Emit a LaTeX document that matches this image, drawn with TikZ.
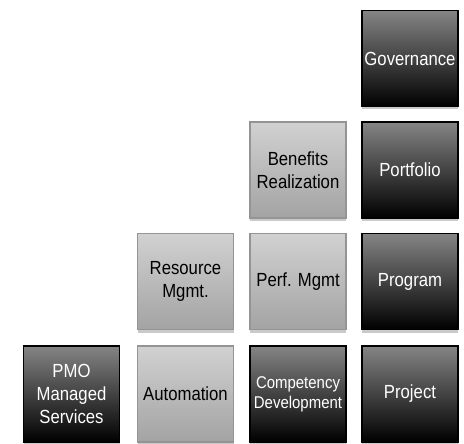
\documentclass[tikz,border=0pt]{standalone}
\usepackage{fontspec}
\setmainfont{Liberation Sans}[FakeStretch=0.88]
\usetikzlibrary{shadows}
\tikzset{
  box/.style={minimum width=96pt, minimum height=96pt, inner sep=0pt, align=center,
    line width=1.3pt, font=\fontsize{19}{23}\selectfont,
    drop shadow={shadow xshift=0pt, shadow yshift=-3pt, opacity=0.35, fill=black!60}},
  darkbox/.style={box, draw=black, top color=black!48, bottom color=black, text=white},
  lightbox/.style={box, draw=black!42, top color=black!18, bottom color=black!36, text=black},
}
\begin{document}
\begin{tikzpicture}[x=1pt,y=-1pt]
\useasboundingbox (0,0) rectangle (464,444);
\node[darkbox] (gov) at (410,58.5) {Governance};
\node[lightbox] (ben) at (298,170) {Benefits\\Realization};
\node[darkbox] (port) at (410,170) {Portfolio};
\node[lightbox] (res) at (185.5,281.5) {Resource\\Mgmt.};
\node[lightbox] (perf) at (298,281.5) {Perf. Mgmt};
\node[darkbox] (prog) at (410,281.5) {Program};
\node[darkbox] (pmo) at (71.5,394) {PMO\\Managed\\Services};
\node[lightbox] (auto) at (185.5,394) {Automation};
\node[darkbox, font=\fontsize{17}{20}\selectfont] (comp) at (298,394) {Competency\\Development};
\node[darkbox] (proj) at (410,394) {Project};
\end{tikzpicture}
\end{document}
